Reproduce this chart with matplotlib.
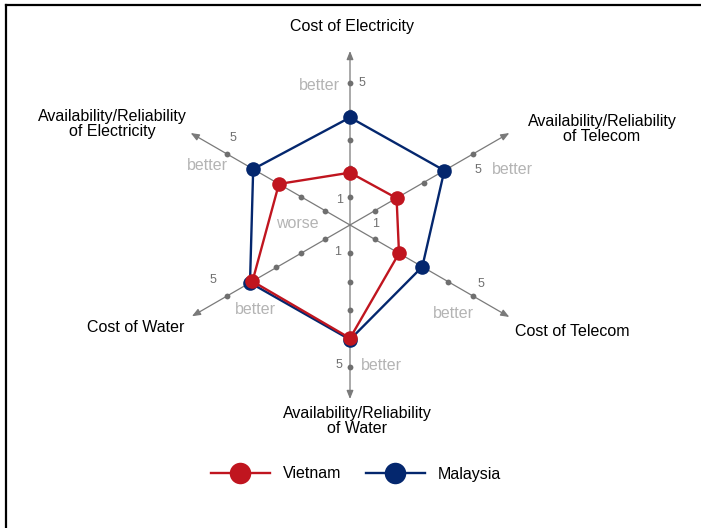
import matplotlib
matplotlib.use("Agg")
import matplotlib.pyplot as plt
import numpy as np
from matplotlib.lines import Line2D

plt.rcParams['font.family'] = ['Liberation Sans', 'DejaVu Sans']

# ---------------- data ----------------
categories = ["Cost of Electricity",
              "Availability/Reliability\nof Telecom",
              "Cost of Telecom",
              "Availability/Reliability\nof Water",
              "Cost of Water",
              "Availability/Reliability\nof Electricity"]
series_names = ["Vietnam", "Malaysia"]
vietnam = [1.85, 1.9, 2.0, 4.0, 3.98, 2.9]
malaysia = [3.8, 3.85, 2.95, 4.05, 4.08, 3.95]
scale_ticks = [1, 2, 3, 4, 5]
scale_min_label = "1"
scale_max_label = "5"
better_label = "better"
worse_label = "worse"

# ---------------- layout / style ----------------
W, H = 701, 528
S = 28.3              # pixels per scale unit
CX, CY = 350, 225     # centre in pixels (from top-left)
angles_deg = [90, 30, -30, -90, -150, 150]
arrow_len = [6.15, 6.5, 6.5, 6.15, 6.45, 6.5]

red = "#c0151f"
blue = "#04276e"
axis_gray = "#7a7a7a"
dot_gray = "#6f6f6f"
light = "#b4b4b4"


def P(xp, yp):
    return ((xp - CX) / S, (CY - yp) / S)


fig = plt.figure(figsize=(W / 100, H / 100), dpi=100)
ax = fig.add_axes([0, 0, 1, 1])
ax.set_xlim(-CX / S, (W - CX) / S)
ax.set_ylim(-(H - CY) / S, CY / S)
ax.axis("off")

ang = np.deg2rad(angles_deg)
ux, uy = np.cos(ang), np.sin(ang)

# axes with arrows and tick dots
for i in range(len(categories)):
    ax.annotate("", xy=(ux[i] * arrow_len[i], uy[i] * arrow_len[i]), xytext=(0, 0),
                arrowprops=dict(arrowstyle="-|>,head_length=0.5,head_width=0.2",
                                color=axis_gray, lw=0.9, shrinkA=0, shrinkB=0,
                                mutation_scale=10), zorder=1)
    t = np.array(scale_ticks, dtype=float)
    ax.plot(ux[i] * t, uy[i] * t, "o", color=dot_gray, ms=4.2, mec="none", zorder=2)

# series polygons
for vals, col, z in [(malaysia, blue, 3), (vietnam, red, 4)]:
    v = np.array(vals + vals[:1])
    xs = np.append(ux, ux[0]) * v
    ys = np.append(uy, uy[0]) * v
    ax.plot(xs, ys, "-", color=col, lw=1.7, zorder=z)
    ax.plot(xs[:-1], ys[:-1], "o", color=col, ms=10.5, mec="none", zorder=z)

# category labels
cat_px = [(352, 27), (602, 129), (572, 331), (357, 421), (136, 327), (112, 124)]
for lab, (xp, yp) in zip(categories, cat_px):
    ax.text(*P(xp, yp), lab, ha="center", va="center", fontsize=11.5,
            color="black", linespacing=1.05)

# "better" / "5" / "1" / "worse"
better_px = [(319, 86), (512, 169), (453, 313), (381, 365), (255, 310), (207, 166)]
five_px = [(362, 83), (478, 170), (481, 284), (339, 365), (213, 280), (233, 138)]
one_px = [(340, 200), (376, 224), (338, 252)]
for xp, yp in better_px:
    ax.text(*P(xp, yp), better_label, ha="center", va="center", fontsize=11.5, color=light)
for xp, yp in five_px:
    ax.text(*P(xp, yp), scale_max_label, ha="center", va="center", fontsize=9, color=dot_gray)
for xp, yp in one_px:
    ax.text(*P(xp, yp), scale_min_label, ha="center", va="center", fontsize=9, color=dot_gray)
ax.text(*P(297, 224), worse_label, ha="center", va="center", fontsize=11.5, color=light)

# legend
handles = [Line2D([], [], color=red, lw=1.7, marker="o", ms=15.5, mec="none"),
           Line2D([], [], color=blue, lw=1.7, marker="o", ms=15.5, mec="none")]
leg = ax.legend(handles, series_names, ncol=2, loc="center",
                bbox_to_anchor=(356 / W, 1 - 474 / H), frameon=False,
                fontsize=11.5, handlelength=3.75, handletextpad=0.8,
                columnspacing=1.5, borderaxespad=0)

# frame lines (top and left only)
fig.add_artist(Line2D([6 / W, 1], [1 - 5 / H, 1 - 5 / H], transform=fig.transFigure,
                      color="black", lw=1.6))
fig.add_artist(Line2D([6 / W, 6 / W], [0, 1 - 5 / H], transform=fig.transFigure,
                      color="black", lw=1.6))

fig.savefig("out.png", dpi=100)
